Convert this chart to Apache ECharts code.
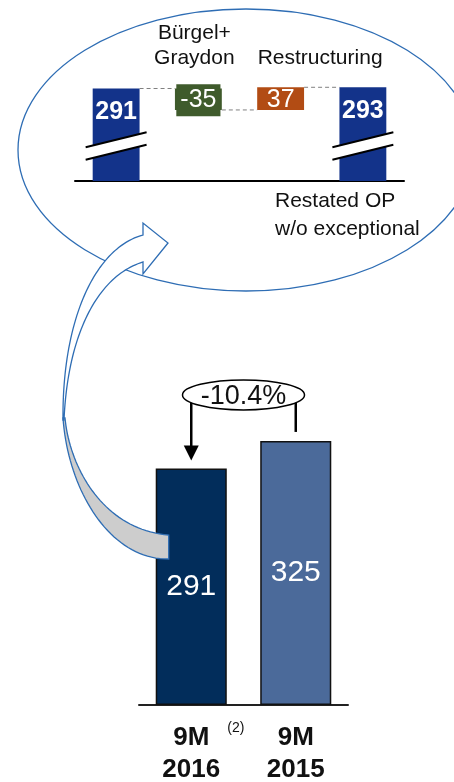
<!DOCTYPE html>
<html>
<head>
<meta charset="utf-8">
<script src="https://cdn.jsdelivr.net/npm/echarts@6/dist/echarts.min.js"></script>
<style>
  html, body { margin: 0; padding: 0; background: #ffffff; }
  #chart { width: 454px; height: 782px; }
</style>
</head>
<body>
<div id="chart"></div>
<script>
// Operating profit bridge (upper bubble) and 9M year-on-year comparison (lower bars)
const bridgeCategories = ['', 'Bürgel+\nGraydon', 'Restructuring', ''];
const bridgeStart = 291;
const bridgeSteps = [-35, 37];
const bridgeEnd = 293;
const bridgeStepColors = ['#3f5b2c', '#b24c14'];
const bridgeNote = ['Restated OP', 'w/o exceptional'];
const breakAt = 197;

const periodLabels = ['9M\n2016', '9M\n2015'];
const periodValues = [291, 325];
const periodColors = ['#022d5b', '#4b6a9a'];
const changeLabel = '-10.4%';
const footnoteMark = '(2)';

const FONT = '"Liberation Sans", Arial, sans-serif';
const OUTLINE = '#2e6db4';

// running levels of the bridge: 291 -> 256 -> 293
const levels = [bridgeStart];
bridgeSteps.forEach(d => levels.push(levels[levels.length - 1] + d));

const baseData = ['-'].concat(bridgeSteps.map((d, i) => Math.min(levels[i], levels[i + 1])), ['-']);
const stepData = ['-'].concat(bridgeSteps.map((d, i) => ({
  value: Math.abs(d),
  delta: d,
  itemStyle: { color: bridgeStepColors[i] },
  label: d < 0
    ? { backgroundColor: bridgeStepColors[i], padding: [3, 4], lineHeight: 26 }
    : { lineHeight: 24 }
})), ['-']);
const totalData = [bridgeStart, '-', '-', bridgeEnd];

const BRIDGE_BAR = 0.57;

const chart = echarts.init(document.getElementById('chart'), null, { renderer: 'canvas' });

const option = {
  animation: false,
  backgroundColor: '#ffffff',
  textStyle: { fontFamily: FONT },
  grid: [
    { left: 75, width: 329, top: 83, height: 98, outerBoundsMode: 'none' },
    { left: 139, width: 209, top: 380, height: 325, outerBoundsMode: 'none' }
  ],
  xAxis: [
    {
      type: 'category', gridIndex: 0, data: bridgeCategories,
      axisLine: { lineStyle: { color: '#000', width: 2 } },
      axisTick: { show: false }, axisLabel: { show: false }
    },
    {
      type: 'category', gridIndex: 0, position: 'top',
      data: bridgeCategories.map((c, i) => i === 1
        ? { value: c, textStyle: { padding: [0, 8, 0, 0] } }
        : i === 2 ? { value: c, textStyle: { padding: [0, 0, 0, 79] } } : c),
      axisLine: { show: false }, axisTick: { show: false },
      axisLabel: { fontSize: 21, lineHeight: 25, color: '#111', margin: 12, interval: 0, fontFamily: FONT }
    },
    {
      type: 'category', gridIndex: 1, data: periodLabels,
      axisLine: { lineStyle: { color: '#222', width: 2 } },
      axisTick: { show: false },
      axisLabel: { fontSize: 26, fontWeight: 'bold', lineHeight: 32, color: '#111', margin: 17, fontFamily: FONT }
    }
  ],
  yAxis: [
    { type: 'value', gridIndex: 0, min: 140, max: 300, show: false },
    { type: 'value', gridIndex: 1, min: 0, max: 400, show: false }
  ],
  series: [
    {
      name: 'base', type: 'bar', xAxisIndex: 0, yAxisIndex: 0, stack: 'bridge',
      barWidth: (BRIDGE_BAR * 100) + '%', data: baseData,
      itemStyle: { color: 'transparent' }, silent: true
    },
    {
      name: 'step', type: 'bar', xAxisIndex: 0, yAxisIndex: 0, stack: 'bridge',
      data: stepData,
      label: {
        show: true, position: 'inside', color: '#ffffff', fontSize: 25, fontFamily: FONT, offset: [0, 1],
        formatter: p => (p.data.delta < 0 ? '-' : '') + Math.abs(p.data.delta)
      }
    },
    {
      name: 'total', type: 'bar', xAxisIndex: 0, yAxisIndex: 0, stack: 'bridge',
      data: totalData, itemStyle: { color: '#13338a' },
      label: {
        show: true, position: 'insideTop', distance: 11, color: '#ffffff',
        fontSize: 25, fontWeight: 'bold', lineHeight: 26, fontFamily: FONT
      }
    },
    {
      // dashed connectors between consecutive bridge bars
      name: 'connector', type: 'custom', xAxisIndex: 0, yAxisIndex: 0, z: 3,
      data: levels.map((v, i) => [i, v]),
      renderItem: (params, api) => {
        const p = api.coord([api.value(0), api.value(1)]);
        const band = api.size([1, 0])[0];
        const half = band * BRIDGE_BAR / 2;
        return {
          type: 'line',
          shape: { x1: p[0] + half, y1: p[1], x2: p[0] + band - half, y2: p[1] },
          style: { stroke: '#808080', lineWidth: 1, lineDash: [4, 3] }
        };
      }
    },
    {
      // axis break symbols across the two total bars
      name: 'break', type: 'custom', xAxisIndex: 0, yAxisIndex: 0, z: 4,
      data: [[0, breakAt], [bridgeCategories.length - 1, breakAt]],
      renderItem: (params, api) => {
        const p = api.coord([api.value(0), api.value(1)]);
        const half = api.size([1, 0])[0] * BRIDGE_BAR / 2 * 1.3;
        const rise = 7.5, gap = 6.25;
        const x1 = p[0] - half, x2 = p[0] + half;
        return {
          type: 'group',
          children: [
            { type: 'polygon', shape: { points: [[x1, p[1] - gap + rise], [x2, p[1] - gap - rise], [x2, p[1] + gap - rise], [x1, p[1] + gap + rise]] },
              style: { fill: '#ffffff' } },
            { type: 'line', shape: { x1: x1, y1: p[1] - gap + rise, x2: x2, y2: p[1] - gap - rise }, style: { stroke: '#000', lineWidth: 2 } },
            { type: 'line', shape: { x1: x1, y1: p[1] + gap + rise, x2: x2, y2: p[1] + gap - rise }, style: { stroke: '#000', lineWidth: 2 } }
          ]
        };
      }
    },
    {
      name: 'period', type: 'bar', xAxisIndex: 2, yAxisIndex: 1, barWidth: '68%',
      data: periodValues.map((v, i) => ({ value: v, itemStyle: { color: periodColors[i] } })),
      itemStyle: { borderColor: '#111', borderWidth: 1.5 },
      label: { show: true, position: 'inside', color: '#ffffff', fontSize: 30, fontFamily: FONT }
    }
  ]
};

chart.setOption(option);

function cubic(p0, c1, c2, p3, n) {
  const pts = [];
  for (let i = 0; i <= n; i++) {
    const t = i / n, u = 1 - t;
    pts.push([
      u * u * u * p0[0] + 3 * u * u * t * c1[0] + 3 * u * t * t * c2[0] + t * t * t * p3[0],
      u * u * u * p0[1] + 3 * u * u * t * c1[1] + 3 * u * t * t * c2[1] + t * t * t * p3[1]
    ]);
  }
  return pts;
}

// annotation geometry taken from the bar positions
const pA = chart.convertToPixel({ xAxisIndex: 2, yAxisIndex: 1 }, [0, periodValues[0]]);
const pB = chart.convertToPixel({ xAxisIndex: 2, yAxisIndex: 1 }, [1, periodValues[1]]);
const halfBar = chart.getModel().getComponent('xAxis', 2).axis.getBandWidth() * 0.68 / 2;
const bubbleY = Math.min(pA[1], pB[1]) - 46;
const bubbleX = (pA[0] + pB[0]) / 2;
const tipY = pA[1] - 8;

// curved block arrow from the 2016 bar up into the bridge bubble
const tailX = pA[0] - halfBar + 13;
const backBand = cubic([65, 418], [70, 470], [105, 530], [tailX, 535], 40)
  .concat(cubic([tailX, 559], [110, 560], [68, 490], [63, 418], 40));
const frontBand = cubic([63, 420], [62, 320], [95, 248], [143, 235], 50)
  .concat([[143, 223], [168, 243], [143, 274]])
  .concat(cubic([143, 262], [100, 275], [68, 330], [64, 420], 50));

chart.setOption({
  graphic: [
    { type: 'ellipse', shape: { cx: 246, cy: 150, rx: 228, ry: 141 },
      style: { fill: null, stroke: OUTLINE, lineWidth: 1.3 }, z: 1 },
    { type: 'text', x: 275, y: 187, z: 5,
      style: { text: bridgeNote.join('\n'), fontSize: 21, lineHeight: 28, fontFamily: FONT, fill: '#111', align: 'left', verticalAlign: 'top' } },
    { type: 'polygon', shape: { points: backBand }, z: 20,
      style: { fill: '#cdcdcd', stroke: OUTLINE, lineWidth: 1.3 } },
    { type: 'polygon', shape: { points: frontBand }, z: 21,
      style: { fill: '#ffffff', stroke: OUTLINE, lineWidth: 1.3 } },

    { type: 'line', shape: { x1: pA[0], y1: bubbleY, x2: pA[0], y2: tipY - 12 }, z: 20,
      style: { stroke: '#000', lineWidth: 2.5 } },
    { type: 'polygon', shape: { points: [[pA[0] - 7.5, tipY - 15], [pA[0] + 7.5, tipY - 15], [pA[0], tipY]] }, z: 20,
      style: { fill: '#000' } },
    { type: 'line', shape: { x1: pB[0], y1: bubbleY, x2: pB[0], y2: pB[1] - 9 }, z: 20,
      style: { stroke: '#000', lineWidth: 2.5 } },
    { type: 'ellipse', shape: { cx: bubbleX, cy: bubbleY, rx: 61, ry: 15 }, z: 22,
      style: { fill: '#ffffff', stroke: '#000', lineWidth: 1.5 } },
    { type: 'text', x: bubbleX, y: bubbleY + 2, z: 23,
      style: { text: changeLabel, fontSize: 27, fontFamily: FONT, fill: '#111', align: 'center', verticalAlign: 'middle' } },

    { type: 'text', x: pA[0] + halfBar + 9, y: 728, z: 5,
      style: { text: footnoteMark, fontSize: 14, fontFamily: FONT, fill: '#111', align: 'center', verticalAlign: 'middle' } }
  ]
});
</script>
</body>
</html>
